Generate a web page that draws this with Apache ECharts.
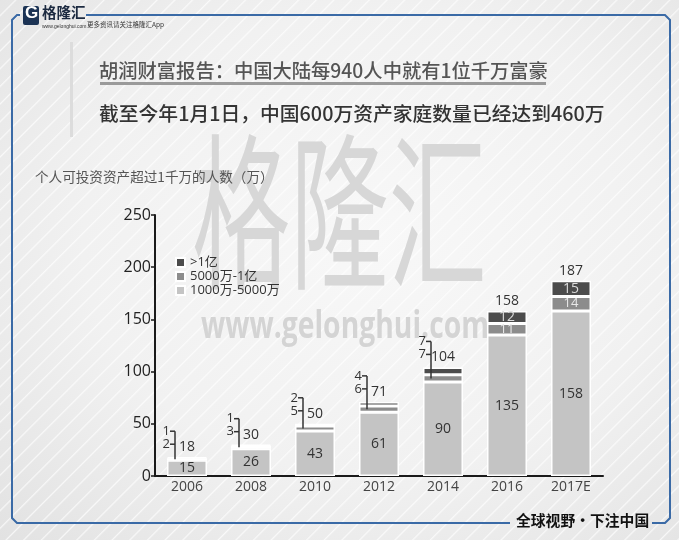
<!DOCTYPE html>
<html>
<head>
<meta charset="utf-8">
<script src="https://cdn.jsdelivr.net/npm/echarts@6/dist/echarts.min.js"></script>
<style>
html,body{margin:0;padding:0;}
body{
  width:679px;height:540px;overflow:hidden;
  background:
    repeating-linear-gradient(135deg, rgba(255,255,255,0) 0px, rgba(255,255,255,0) 10px, rgba(255,255,255,0.7) 11px, rgba(255,255,255,0) 12.5px),
    radial-gradient(ellipse at 55% 45%, #f8f8f8 0%, #f1f1f1 55%, #e2e2e2 100%);
}
#chart{width:679px;height:540px;}
</style>
</head>
<body>
<div id="chart"></div>
<script>
// ---- data ----
const years = ['2006', '2008', '2010', '2012', '2014', '2016', '2017E'];
const seg1000to5000 = [15, 26, 43, 61, 90, 135, 158];   // 1000万-5000万
const seg5000to1yi = [2, 3, 5, 6, 7, 11, 14];            // 5000万-1亿
const segOver1yi = [1, 1, 2, 4, 7, 12, 15];              // >1亿
const totals = [18, 30, 50, 71, 104, 158, 187];
const yTicks = [0, 50, 100, 150, 200, 250];
const seriesNames = ['>1亿', '5000万-1亿', '1000万-5000万'];

const chart = echarts.init(document.getElementById('chart'), null, {renderer: 'canvas'});

const annoData = years.map((y, i) => [i, totals[i], seg1000to5000[i], seg5000to1yi[i], segOver1yi[i]]);

function renderAnno(params, api) {
  const i = api.value(0);
  const total = api.value(1);
  const low = api.value(2);
  const mid = api.value(3);
  const top = api.value(4);
  const pTop = api.coord([i, total]);
  const x = pTop[0], yTop = pTop[1];
  const children = [];
  children.push({
    type: 'text',
    style: {x: x, y: yTop - 10, text: String(total), fill: '#333', font: '14px "Open Sans", Arial, sans-serif', textAlign: 'center', textVerticalAlign: 'middle'}
  });
  if (mid < 10) {
    const yA = yTop - 26, yB = yTop - 13;
    const yEnd = api.coord([i, low + mid * 0.5])[1];
    const lx = x - 12;
    const ls = {stroke: '#333', lineWidth: 1.5};
    children.push({type: 'line', shape: {x1: lx, y1: yA, x2: lx, y2: yEnd}, style: ls});
    children.push({type: 'line', shape: {x1: lx - 5, y1: yA, x2: lx, y2: yA}, style: ls});
    children.push({type: 'line', shape: {x1: lx - 5, y1: yB, x2: lx, y2: yB}, style: ls});
    children.push({type: 'text', style: {x: lx - 5, y: yA, text: String(top), fill: '#333', font: '13px "Open Sans", Arial, sans-serif', textAlign: 'right', textVerticalAlign: 'middle'}});
    children.push({type: 'text', style: {x: lx - 5, y: yB, text: String(mid), fill: '#333', font: '13px "Open Sans", Arial, sans-serif', textAlign: 'right', textVerticalAlign: 'middle'}});
  }
  return {type: 'group', children: children};
}

const option = {
  animation: false,
  backgroundColor: 'transparent',
  textStyle: {fontFamily: '"Noto Sans CJK SC", "Open Sans", sans-serif'},
  grid: {left: 155, right: 76, top: 215, bottom: 64, containLabel: false},
  legend: {
    data: seriesNames,
    orient: 'vertical',
    left: 170, top: 251,
    itemWidth: 9, itemHeight: 9, itemGap: 1,
    icon: 'rect',
    textStyle: {fontSize: 13, color: '#333', fontFamily: '"Open Sans", "Noto Sans CJK SC", sans-serif'}
  },
  xAxis: {
    type: 'category',
    data: years,
    axisLine: {lineStyle: {color: '#1a1a1a', width: 2}},
    axisTick: {show: false},
    axisLabel: {fontSize: 14, color: '#444', margin: 4, fontFamily: '"Open Sans", Arial, sans-serif'}
  },
  yAxis: {
    type: 'value',
    min: 0, max: 250, interval: 50,
    splitLine: {show: false},
    axisLine: {show: true, lineStyle: {color: '#1a1a1a', width: 2}},
    axisTick: {show: true, length: 4, lineStyle: {color: '#1a1a1a', width: 1.5}},
    axisLabel: {fontSize: 16, color: '#222', margin: 4, fontFamily: '"Open Sans", Arial, sans-serif',
      formatter: v => yTicks.indexOf(v) >= 0 ? String(v) : ''}
  },
  series: [
    {
      type: 'bar', stack: 'total', barWidth: 40, z: 3,
      name: '1000万-5000万', data: seg1000to5000,
      itemStyle: {color: '#c4c4c4', borderColor: '#ffffff', borderWidth: 1.5},
      label: {show: true, position: 'inside', color: '#333', fontSize: 14, fontFamily: '"Open Sans", Arial, sans-serif'}
    },
    {
      type: 'bar', stack: 'total', barWidth: 40, z: 3,
      name: '5000万-1亿', data: seg5000to1yi,
      itemStyle: {color: '#8c8c8c', borderColor: '#ffffff', borderWidth: 1.5},
      label: {show: true, position: 'inside', color: '#e8e8e8', fontSize: 13, fontFamily: '"Open Sans", Arial, sans-serif',
        formatter: p => p.value >= 10 ? String(p.value) : ''}
    },
    {
      type: 'bar', stack: 'total', barWidth: 40, z: 3,
      name: '>1亿', data: segOver1yi,
      itemStyle: {color: '#4c4c4c', borderColor: '#ffffff', borderWidth: 1.5},
      label: {show: true, position: 'inside', color: '#dcdcdc', fontSize: 14, fontFamily: '"Open Sans", Arial, sans-serif',
        formatter: p => p.value >= 10 ? String(p.value) : ''}
    },
    {
      type: 'custom', name: 'anno', data: annoData,
      encode: {x: 0, y: 1},
      renderItem: renderAnno, z: 5, silent: true
    }
  ],
  graphic: [
    // watermark
    {type: 'text', x: 192, y: 128, z: -10, silent: true, scaleX: 0.585,
      style: {text: '格隆汇', fill: '#d7d7d7', font: '400 168px "Noto Sans CJK SC", sans-serif'}},
    {type: 'text', x: 201, y: 309, z: -10, silent: true, scaleX: 0.765,
      style: {text: 'www.gelonghui.com', fill: '#d4d4d4', font: 'bold 37px "Open Sans", Arial, sans-serif'}},
    // frame
    {type: 'polyline', silent: true, z: -5,
      shape: {points: [[86, 15], [665, 15], [670, 20], [670, 518], [665, 523], [652, 523]]},
      style: {stroke: '#3a6aa6', lineWidth: 2, fill: null}},
    {type: 'polyline', silent: true, z: -5,
      shape: {points: [[510, 523], [17, 523], [12, 518], [12, 20], [17, 15], [20, 15]]},
      style: {stroke: '#3a6aa6', lineWidth: 2, fill: null}},
    // logo
    {type: 'rect', silent: true, shape: {x: 23, y: 6, width: 16, height: 19, r: 2}, style: {fill: '#1c3354'}},
    {type: 'text', silent: true, x: 25, y: 5, style: {text: 'G', fill: '#ffffff', font: 'bold 17px Arial, sans-serif'}},
    {type: 'text', silent: true, x: 42, y: 5, style: {text: '格隆汇', fill: '#1c2a40', font: 'bold 14.5px "Noto Sans CJK SC", sans-serif'}},
    {type: 'text', silent: true, x: 42, y: 24, style: {text: 'www.gelonghui.com', fill: '#333', font: '5px Arial, sans-serif'}},
    {type: 'text', silent: true, x: 87, y: 21, style: {text: '更多资讯请关注格隆汇App', fill: '#333', font: '6.5px "Noto Sans CJK SC", sans-serif'}},
    // left gray accent bar
    {type: 'rect', silent: true, shape: {x: 70, y: 42, width: 3, height: 95}, style: {fill: '#dcdcdc'}},
    // titles
    {type: 'text', silent: true, x: 99, y: 61, style: {text: '胡润财富报告：中国大陆每940人中就有1位千万富豪', fill: '#555', font: '500 19.3px "Noto Sans CJK SC", sans-serif'}},
    {type: 'rect', silent: true, shape: {x: 100, y: 82, width: 446, height: 3}, style: {fill: '#9a9a9a'}},
    {type: 'text', silent: true, x: 99, y: 104, style: {text: '截至今年1月1日，中国600万资产家庭数量已经达到460万', fill: '#333', font: '500 19.8px "Noto Sans CJK SC", sans-serif'}},
    {type: 'text', silent: true, x: 35, y: 170, style: {text: '个人可投资资产超过1千万的人数（万）', fill: '#555', font: '13.6px "Noto Sans CJK SC", sans-serif'}},
    // bottom slogan
    {type: 'text', silent: true, x: 516, y: 513, style: {text: '全球视野·下注中国', fill: '#111', font: 'bold 14.8px "Noto Sans CJK SC", sans-serif'}}
  ]
};

chart.setOption(option);
</script>
</body>
</html>
